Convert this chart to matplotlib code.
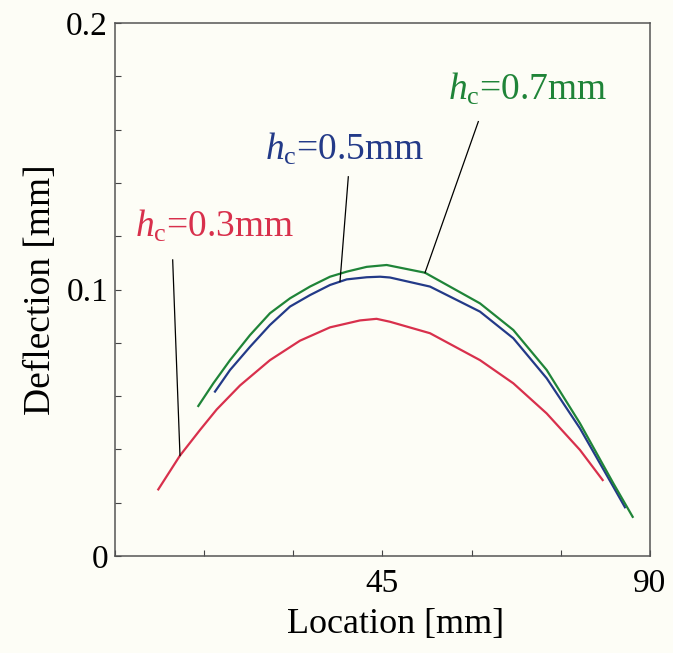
import matplotlib
matplotlib.use("Agg")
import matplotlib.pyplot as plt
from matplotlib.ticker import MultipleLocator

plt.rcParams["font.family"] = ["Liberation Serif", "DejaVu Serif"]
plt.rcParams["mathtext.fontset"] = "custom"
plt.rcParams["mathtext.rm"] = "Liberation Serif"
plt.rcParams["mathtext.it"] = "Liberation Serif:italic"

# deflection curves (location mm, deflection mm)
x_03 = [7.28, 10.93, 14.30, 17.11, 21.03, 26.07, 31.12, 36.17, 41.21, 44.0,
        46.26, 52.99, 61.40, 67.01, 72.62, 78.22, 82.04]
y_03 = [0.0250, 0.0377, 0.0473, 0.0550, 0.0640, 0.0735, 0.0808, 0.0858, 0.0884,
        0.0890, 0.0879, 0.0836, 0.0735, 0.0648, 0.0535, 0.0398, 0.0285]

x_05 = [16.82, 19.35, 22.71, 26.07, 29.44, 32.80, 36.17, 38.98, 42.34, 44.6,
        46.26, 52.99, 61.40, 67.01, 72.62, 78.22, 83.83, 85.79]
y_05 = [0.0617, 0.0698, 0.0785, 0.0867, 0.0936, 0.0979, 0.1017, 0.1038, 0.1046,
        0.1048, 0.1045, 0.1011, 0.0917, 0.0817, 0.0667, 0.0479, 0.0260, 0.0183]

x_07 = [14.01, 16.54, 19.35, 22.71, 26.07, 29.44, 32.80, 36.17, 38.98, 42.34,
        45.7, 52.15, 61.40, 67.01, 72.62, 78.22, 83.83, 87.09]
y_07 = [0.0563, 0.0648, 0.0735, 0.0829, 0.0911, 0.0967, 0.1011, 0.1048, 0.1067,
        0.1085, 0.1092, 0.1063, 0.0948, 0.0848, 0.0698, 0.0498, 0.0273, 0.0147]

labels = [r"$h_\mathrm{c}$=0.3mm", r"$h_\mathrm{c}$=0.5mm", r"$h_\mathrm{c}$=0.7mm"]
colors = ["#d8304c", "#233a88", "#1f8438"]
# leader lines: (text end, curve end)
leader_top = [(9.7, 0.1111), (39.25, 0.1423), (61.12, 0.1630)]
leader_end = [(10.93, 0.0377), (37.85, 0.1030), (52.15, 0.1063)]
text_pos = [(3.4, 0.1197), (25.2, 0.1486), (56.0, 0.1711)]

bg = "#fdfdf6"
fig = plt.figure(figsize=(6.73, 6.53), dpi=100, facecolor=bg)
ax = fig.add_axes([0.1709, 0.1485, 0.7949, 0.8163], facecolor=bg)

for xs, ys, c in zip([x_03, x_05, x_07], [y_03, y_05, y_07], colors):
    ax.plot(xs, ys, color=c, lw=1.6)

for lab, c, p0, p1, tp in zip(labels, colors, leader_top, leader_end, text_pos):
    ax.plot([p0[0], p1[0]], [p0[1], p1[1]], color="black", lw=0.9)
    ax.text(tp[0], tp[1], lab, color=c, fontsize=27, ha="left", va="baseline")

ax.set_xlim(0, 90)
ax.set_ylim(0, 0.2)
ax.set_xticks([0, 15, 30, 45, 60, 75, 90], ["", "", "", "45", "", "", "90"])
ax.set_yticks([0, 0.1, 0.2], ["0", "0.1", "0.2"])
ax.yaxis.set_minor_locator(MultipleLocator(0.02))
ax.tick_params(axis="both", which="both", direction="in", length=4.5, width=0.8,
               colors="#444444", labelcolor="black", labelsize=24)
ax.tick_params(axis="x", pad=9)
ax.tick_params(axis="y", pad=5)

for s in ax.spines.values():
    s.set_color("#555555")
    s.set_linewidth(1.1)

ax.set_xlabel("Location [mm]", fontsize=26)
ax.xaxis.set_label_coords(0.525, -0.097)
ax.set_ylabel("Deflection [mm]", fontsize=27, labelpad=6)

fig.savefig("out.png", dpi=100, facecolor=bg)
